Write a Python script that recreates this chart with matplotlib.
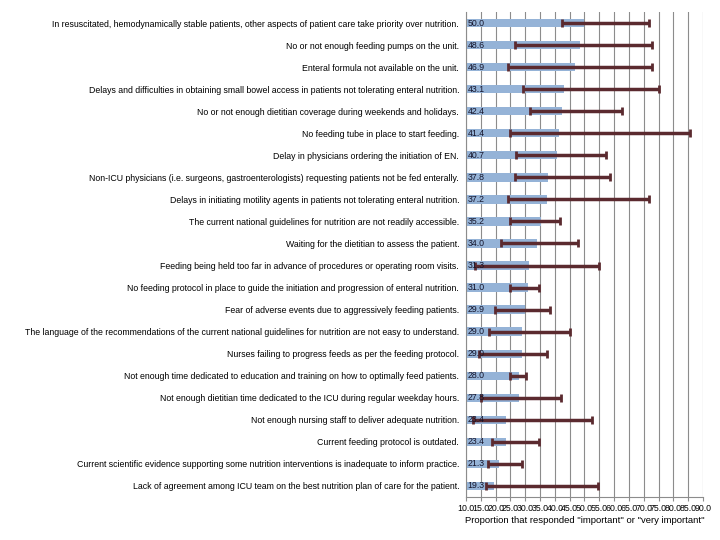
import numpy as np
import matplotlib.pyplot as plt

# ------------------ DATA ------------------

barriers = [
    "In resuscitated, hemodynamically stable patients, other aspects of patient care take priority over nutrition.",
    "No or not enough feeding pumps on the unit.",
    "Enteral formula not available on the unit.",
    "Delays and difficulties in obtaining small bowel access in patients not tolerating enteral nutrition.",
    "No or not enough dietitian coverage during weekends and holidays.",
    "No feeding tube in place to start feeding.",
    "Delay in physicians ordering the initiation of EN.",
    "Non-ICU physicians (i.e. surgeons, gastroenterologists) requesting patients not be fed enterally.",
    "Delays in initiating motility agents in patients not tolerating enteral nutrition.",
    "The current national guidelines for nutrition are not readily accessible.",
    "Waiting for the dietitian to assess the patient.",
    "Feeding being held too far in advance of procedures or operating room visits.",
    "No feeding protocol in place to guide the initiation and progression of enteral nutrition.",
    "Fear of adverse events due to aggressively feeding patients.",
    "The language of the recommendations of the current national guidelines for nutrition are not easy to understand.",
    "Nurses failing to progress feeds as per the feeding protocol.",
    "Not enough time dedicated to education and training on how to optimally feed patients.",
    "Not enough dietitian time dedicated to the ICU during regular weekday hours.",
    "Not enough nursing staff to deliver adequate nutrition.",
    "Current feeding protocol is outdated.",
    "Current scientific evidence supporting some nutrition interventions is inadequate to inform practice.",
    "Lack of agreement among ICU team on the best nutrition plan of care for the patient.",
]

proportion = np.array([50.0, 48.6, 46.9, 43.1, 42.4, 41.4, 40.7, 37.8, 37.2, 35.2, 34.0,
                       31.3, 31.0, 29.9, 29.0, 29.0, 28.0, 27.8, 23.4, 23.4, 21.3, 19.3])
range_low = np.array([42.4, 26.7, 24.3, 29.4, 31.7, 25.0, 27.0, 26.7, 24.3, 25.0, 21.9,
                      13.0, 25.0, 19.9, 17.9, 14.5, 25.0, 15.0, 12.3, 18.9, 17.5, 16.8])
range_high = np.array([71.7, 72.7, 72.7, 75.1, 62.6, 85.7, 57.1, 58.6, 71.7, 41.6, 47.7,
                       54.8, 34.8, 38.5, 45.0, 37.5, 30.4, 42.0, 52.5, 34.6, 28.8, 54.5])

# ------------------ PLOT ------------------

plt.rcParams['font.family'] = ['Liberation Sans', 'DejaVu Sans']

fig = plt.figure(figsize=(7.2, 5.4), dpi=100)
ax = fig.add_axes([0.6472, 0.0796, 0.3292, 0.8982])

y = np.arange(len(barriers))
ax.barh(y, proportion, height=0.38, color='#95b3d7', zorder=2)
ax.errorbar(proportion, y, xerr=[proportion - range_low, range_high - proportion],
            fmt='none', ecolor='#5b2a2f', elinewidth=2.5, capsize=2.8, capthick=2, zorder=3)

for yi, v in zip(y, proportion):
    ax.text(10.6, yi, f"{v:.1f}", va='center', ha='left', fontsize=6.3, color='#14142b', zorder=4)

ax.set_xlim(10, 90)
ax.set_ylim(len(barriers) - 0.5, -0.5)
ax.set_xticks(np.arange(10, 91, 5))
ax.set_xticklabels([f"{t:.1f}" for t in np.arange(10, 91, 5)], fontsize=6.3)
ax.set_yticks(y)
ax.set_yticklabels(barriers, fontsize=6.3)
ax.tick_params(axis='y', length=0, pad=5)
ax.tick_params(axis='x', length=3, color='#8c8c8c', pad=2)
ax.xaxis.grid(True, color='#8c8c8c', linewidth=0.8, zorder=0)
ax.set_axisbelow(True)

for side in ['top', 'right']:
    ax.spines[side].set_visible(False)
for side in ['left', 'bottom']:
    ax.spines[side].set_color('#8c8c8c')
    ax.spines[side].set_linewidth(0.8)

ax.set_xlabel('Proportion that responded "important" or "very important"', fontsize=6.8, labelpad=2)

plt.savefig("out.png", dpi=100)
